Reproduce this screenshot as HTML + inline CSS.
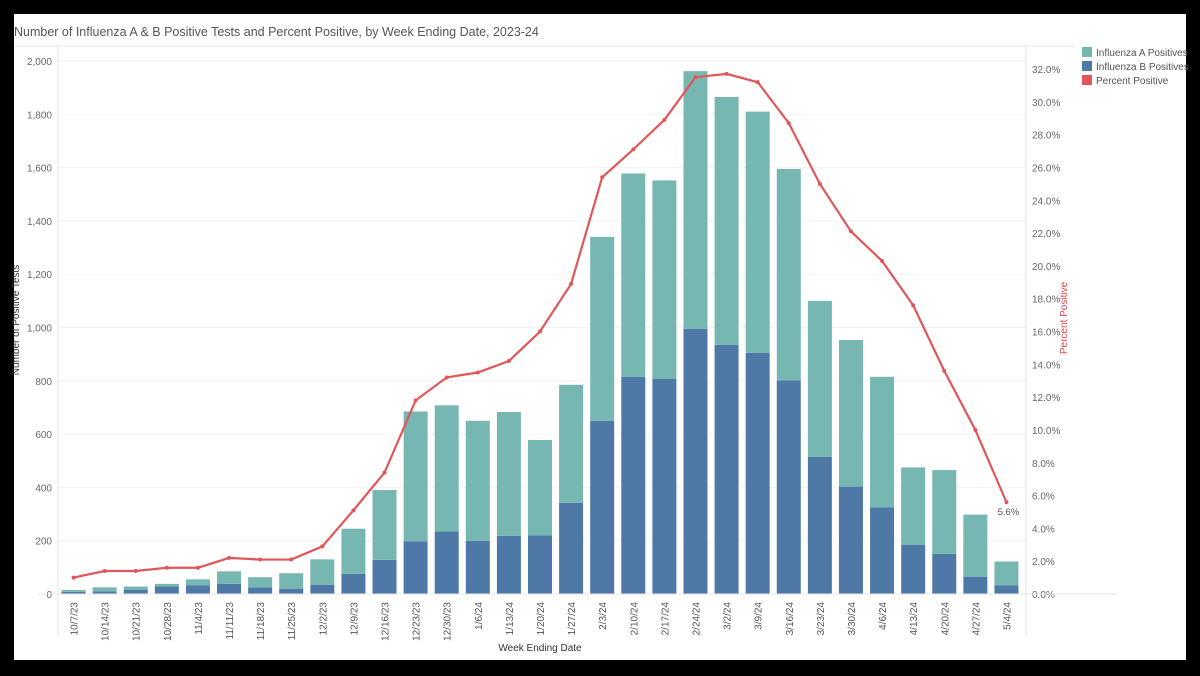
<!DOCTYPE html>
<html><head><meta charset="utf-8"><style>
html,body{margin:0;padding:0;background:#000;}
svg{display:block;font-family:"Liberation Sans",sans-serif;}
</style></head><body>
<svg width="1200" height="676" viewBox="0 0 1200 676">
<rect x="14" y="14" width="1172" height="646" fill="#fff"/>
<text x="14" y="36" font-size="12.5" fill="#555">Number of Influenza A &amp; B Positive Tests and Percent Positive, by Week Ending Date, 2023-24</text>
<line x1="14" y1="46" x2="1075" y2="46" stroke="#e6e6e6"/>
<g id="grid"></g>
<g id="bars"></g>
<g id="line"></g>
<g id="axes"></g>
<text transform="translate(19,320) rotate(-90)" text-anchor="middle" font-size="10" fill="#333">Number of Positive Tests</text>
<text transform="translate(1067,318) rotate(-90)" text-anchor="middle" font-size="10" fill="#e0474c">Percent Positive</text>
<text x="540" y="651" text-anchor="middle" font-size="10" fill="#333">Week Ending Date</text>
<g>
<rect x="1082" y="47" width="10" height="10" fill="#76b7b2"/>
<text x="1096" y="56" font-size="10" fill="#555">Influenza A Positives</text>
<rect x="1082" y="61" width="10" height="10" fill="#4e79a7"/>
<text x="1096" y="70" font-size="10" fill="#555">Influenza B Positives</text>
<rect x="1082" y="75" width="10" height="10" fill="#e15759"/>
<text x="1096" y="84" font-size="10" fill="#555">Percent Positive</text>
</g>
</svg>
<script>
const categories=["10/7/23","10/14/23","10/21/23","10/28/23","11/4/23","11/11/23","11/18/23","11/25/23","12/2/23","12/9/23","12/16/23","12/23/23","12/30/23","1/6/24","1/13/24","1/20/24","1/27/24","2/3/24","2/10/24","2/17/24","2/24/24","3/2/24","3/9/24","3/16/24","3/23/24","3/30/24","4/6/24","4/13/24","4/20/24","4/27/24","5/4/24"];
const fluB=[8,10,15,28,32,38,25,20,35,75,128,198,235,200,218,220,342,650,815,808,995,935,905,802,515,403,325,185,150,65,32];
const fluA=[7,15,13,10,23,47,38,58,95,170,262,487,473,450,465,358,443,690,763,744,967,930,905,793,585,550,490,290,315,233,90];
const pctPositive=[1.0,1.4,1.4,1.6,1.6,2.2,2.1,2.1,2.9,5.1,7.4,11.8,13.2,13.5,14.2,16.0,18.9,25.4,27.1,28.9,31.5,31.7,31.2,28.7,25.0,22.1,20.3,17.6,13.6,10.0,5.6];
const leftTicks=[0,200,400,600,800,1000,1200,1400,1600,1800,2000];
const rightTicks=[0,2,4,6,8,10,12,14,16,18,20,22,24,26,28,30,32];

const NS="http://www.w3.org/2000/svg";
const X0=58,X1=1026,Y0=594;
const n=categories.length;
const PL=58,PR=1022;
const step=(PR-PL)/n;
const xC=i=>PL+step*(i+0.5);
const yL=v=>Y0-v*(594-61)/2000;
const yR=p=>Y0-p*(594-69)/32;
function mk(tag,attrs,parent){const e=document.createElementNS(NS,tag);for(const k in attrs)e.setAttribute(k,attrs[k]);parent.appendChild(e);return e;}
const grid=document.getElementById('grid'),bars=document.getElementById('bars'),line=document.getElementById('line'),axes=document.getElementById('axes');
leftTicks.forEach(t=>{
 const g=mk('line',{x1:X0,x2:X1,y1:yL(t),y2:yL(t),stroke:'#f2f2f2'},grid);
 
 
 const l=mk('text',{x:X0-6,y:yL(t)+4,'text-anchor':'end','font-size':'10',fill:'#666'},axes);
 l.textContent=t.toLocaleString('en-US');
 
 
});
rightTicks.forEach(t=>{
 const l=mk('text',{x:X1+6,y:yR(t)+4,'font-size':'10',fill:'#666'},axes);
 l.textContent=t.toFixed(1)+'%';
 
 
});
const bw=24;
categories.forEach((c,i)=>{
 const tot=fluA[i]+fluB[i];
 const rb=mk('rect',{x:xC(i)-bw/2,y:yL(fluB[i]),width:bw,height:Y0-yL(fluB[i]),fill:'#4e79a7'},bars);
 
 
 const ra=mk('rect',{x:xC(i)-bw/2,y:yL(tot),width:bw,height:yL(fluB[i])-yL(tot),fill:'#76b7b2'},bars);
 
 
 const l=mk('text',{transform:`translate(${xC(i)+4},${Y0+8}) rotate(-90)`,'text-anchor':'end','font-size':'10',fill:'#555'},axes);
 l.textContent=c;
 
 
});
const pts=pctPositive.map((p,i)=>xC(i)+','+yR(p)).join(' ');
const pl=mk('polyline',{points:pts,fill:'none',stroke:'#e15759','stroke-width':2.2},line);


pctPositive.forEach((p,i)=>{
 const c=mk('circle',{cx:xC(i),cy:yR(p),r:2,fill:'#e15759'},line);
 
 
});
const last=n-1;
const lb=mk('text',{x:xC(last)+2,y:yR(pctPositive[last])+13,'text-anchor':'middle','font-size':'9.5',fill:'#555'},line);
lb.textContent=pctPositive[last].toFixed(1)+'%';


[[X0,46,X0,636],[X1,46,X1,636],[X0-20,Y0,X1+90,Y0]].forEach(a=>{
 const e=mk('line',{x1:a[0],y1:a[1],x2:a[2],y2:a[3],stroke:'#e4e4e4'},axes);
 
 
});
</script>
</body></html>
